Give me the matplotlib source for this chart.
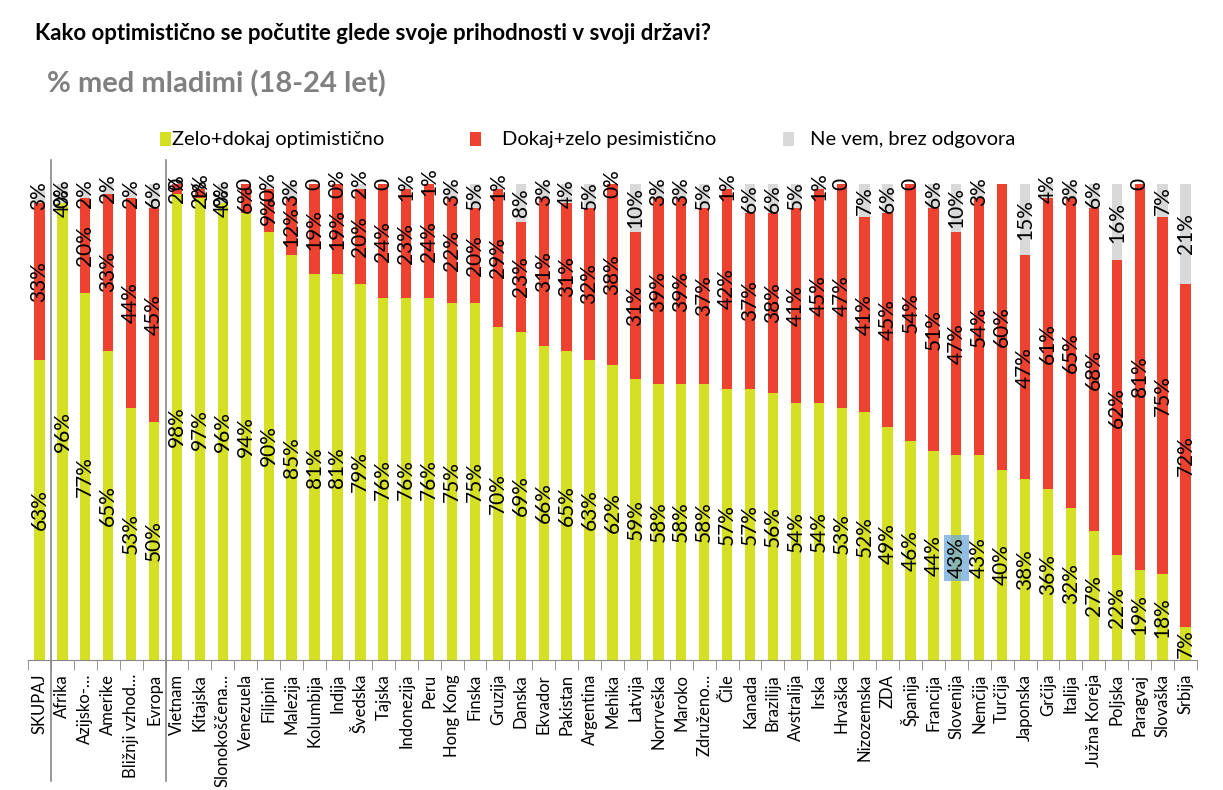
import matplotlib
matplotlib.use("Agg")
import matplotlib.pyplot as plt
import matplotlib.transforms as mtransforms
from matplotlib.patches import Rectangle

plt.rcParams['font.family'] = ['Lato', 'DejaVu Sans']

# Data
categories = ["SKUPAJ", "Afrika", "Azijsko-…", "Amerike", "Bližnji vzhod…", "Evropa",
              "Vietnam", "Kitajska", "Slonokoščena…", "Venezuela", "Filipini", "Malezija",
              "Kolumbija", "Indija", "Švedska", "Tajska", "Indonezija", "Peru", "Hong Kong",
              "Finska", "Gruzija", "Danska", "Ekvador", "Pakistan", "Argentina", "Mehika",
              "Latvija", "Norrveška", "Maroko", "Združeno…", "Čile", "Kanada", "Brazilija",
              "Avstralija", "Irska", "Hrvaška", "Nizozemska", "ZDA", "Španija", "Francija",
              "Slovenija", "Nemčija", "Turčija", "Japonska", "Grčija", "Italija",
              "Južna Koreja", "Poljska", "Paragvaj", "Slovaška", "Srbija"]

optimistic = [63, 96, 77, 65, 53, 50,
              98, 97, 96, 94, 90, 85, 81, 81, 79, 76, 76, 76, 75, 75, 70, 69, 66, 65, 63, 62,
              59, 58, 58, 58, 57, 57, 56, 54, 54, 53, 52, 49, 46, 44, 43, 43, 40, 38, 36, 32,
              27, 22, 19, 18, 7]

pessimistic = [33, 0, 20, 33, 44, 45,
               2, 2, 0, 6, 9, 12, 19, 19, 20, 24, 23, 24, 22, 20, 29, 23, 31, 31, 32, 38,
               31, 39, 39, 37, 42, 37, 38, 41, 45, 47, 41, 45, 54, 51, 47, 54, 60, 47, 61, 65,
               68, 62, 81, 75, 72]

dont_know = [3, 4, 2, 2, 2, 6,
             0, 1, 4, 0, 1, 3, 0, 0, 2, 0, 1, 1, 3, 5, 1, 8, 3, 4, 5, 0,
             10, 3, 3, 5, 1, 6, 6, 5, 1, 0, 7, 6, 0, 6, 10, 3, 0, 15, 4, 3,
             6, 16, 0, 7, 21]

# how the top (grey) value label is written in the original: "%" , "0" or no label
dont_know_fmt = ["%", "0%", "%", "%", "%", "%",
                 "0", "%", "0%", "0", "0%", "%", "0", "0%", "%", "0", "%", "%", "%", "%", "%", "%", "%", "%", "%", "0%",
                 "%", "%", "%", "%", "%", "%", "%", "%", "%", "0", "%", "%", "0", "%", "%", "%", "", "%", "%", "%",
                 "%", "%", "0", "%", "%"]

pessimistic_fmt = ["%"] * len(categories)
pessimistic_fmt[1] = "4%"
pessimistic_fmt[8] = "4%"

series_names = ["Zelo+dokaj optimistično", "Dokaj+zelo pesimistično", "Ne vem, brez odgovora"]
colors = ["#D5DF23", "#EE4230", "#D9D9D9"]

highlight = "Slovenija"

fig = plt.figure(figsize=(12.23, 7.9), dpi=100)
W, H = 1223, 790
ax = fig.add_axes([28 / W, (H - 660) / H, (1197 - 28) / W, (660 - 184) / H])

x = list(range(len(categories)))
width = 0.45
bottom2 = optimistic
bottom3 = [a + b for a, b in zip(optimistic, pessimistic)]
ax.bar(x, optimistic, width, color=colors[0], label=series_names[0], zorder=2)
ax.bar(x, pessimistic, width, bottom=bottom2, color=colors[1], label=series_names[1], zorder=2)
ax.bar(x, dont_know, width, bottom=bottom3, color=colors[2], label=series_names[2], zorder=2)

lab_fs = 15
for i in x:
    # optimistic label
    kw = {}
    if categories[i] == highlight:
        kw['bbox'] = dict(boxstyle='square,pad=0.12', facecolor='#6FA8DC', edgecolor='none', alpha=0.75)
    ax.text(i, optimistic[i] / 2, f"{optimistic[i]}%", rotation=90, ha='center', va='center',
            fontsize=lab_fs, color='black', zorder=4, clip_on=False, **kw)
    # pessimistic label
    t = f"{pessimistic[i]}%" if pessimistic_fmt[i] == "%" else pessimistic_fmt[i]
    ax.text(i, bottom2[i] + pessimistic[i] / 2, t, rotation=90, ha='center', va='center',
            fontsize=lab_fs, color='black', zorder=4, clip_on=False)
    # don't know label
    f = dont_know_fmt[i]
    if f == "":
        continue
    t = f"{dont_know[i]}%" if f == "%" else f
    ax.text(i, bottom3[i] + dont_know[i] / 2, t, rotation=90, ha='center', va='center',
            fontsize=lab_fs, color='black', zorder=4, clip_on=False)

ax.set_xlim(-0.5, len(categories) - 0.5)
ax.set_ylim(0, 100)
for s in ['top', 'right', 'left']:
    ax.spines[s].set_visible(False)
ax.spines['bottom'].set_color('#888888')
ax.set_yticks([])
ax.set_xticks(x)
ax.set_xticklabels(categories, rotation=90, fontsize=12, color='black')
ax.tick_params(axis='x', which='major', length=0, pad=10)
ax.set_xticks([i - 0.5 for i in range(len(categories) + 1)], minor=True)
ax.tick_params(axis='x', which='minor', length=7, color='#888888', direction='out')

# group separators
trans = mtransforms.blended_transform_factory(ax.transData, ax.transAxes)
for sx in [0.5, 5.5]:
    ax.plot([sx, sx], [1.05, -0.255], color='#888888', lw=1.2, transform=trans, clip_on=False, zorder=1)

# titles
fig.text(35 / W, 1 - 33 / H, "Kako optimistično se počutite glede svoje prihodnosti v svoji državi?",
         fontsize=16, fontweight='bold', ha='left', va='center', color='black')
fig.text(47 / W, 1 - 84 / H, "% med mladimi (18-24 let)",
         fontsize=21, fontweight='bold', ha='left', va='center', color='#808080')

# legend
leg_items = [(160, 172), (470, 502), (783, 810)]
for (sqx, tx), name, c in zip(leg_items, series_names, colors):
    fig.patches.append(Rectangle((sqx / W, 1 - 146 / H), 11 / W, 14 / H, transform=fig.transFigure,
                                 facecolor=c, edgecolor='none'))
    fig.text(tx / W, 1 - 139 / H, name, fontsize=14.5, ha='left', va='center', color='black')

fig.savefig("out.png", dpi=100)
